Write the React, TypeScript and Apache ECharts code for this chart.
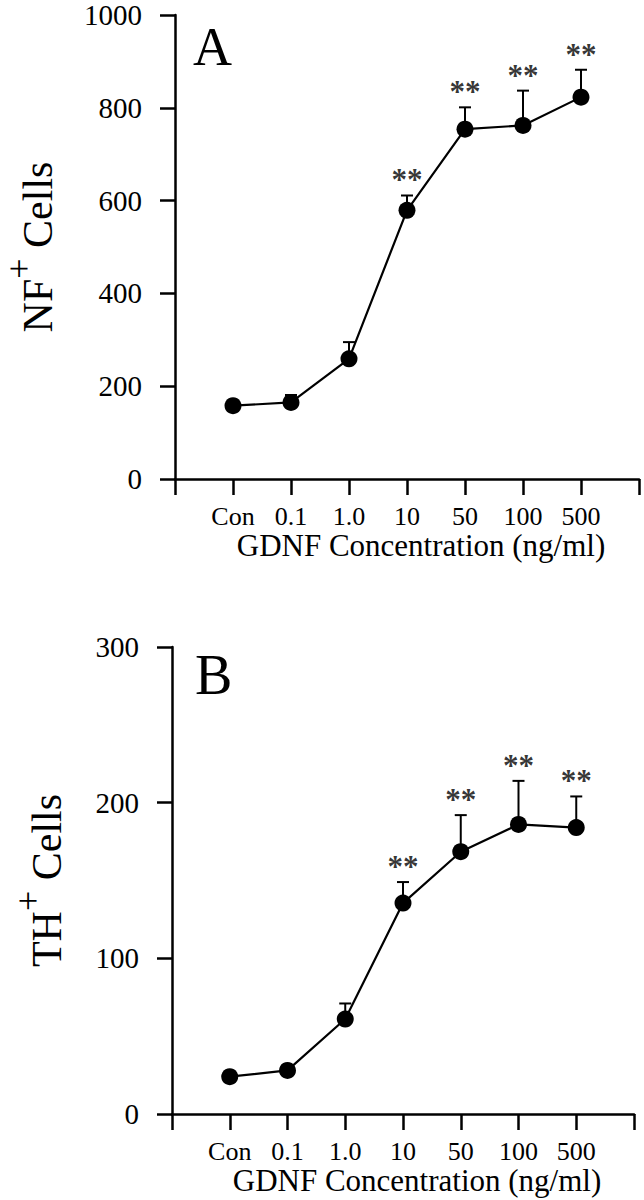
import React, { useEffect, useRef } from "react";
import * as echarts from "echarts";

const categories = ["Con", "0.1", "1.0", "10", "50", "100", "500"];
const nfMeans = [158, 165, 259, 579, 754, 762, 823];
const nfErrors = [8, 16, 36, 32, 47, 75, 59];
const thMeans = [24, 28, 61, 135.5, 168.5, 186, 184];
const thErrors = [2, 3, 10, 13.5, 23.5, 28, 20];
const significant = [false, false, false, true, true, true, true];
const nfTicks = { min: 0, max: 1000, interval: 200 };
const thTicks = { min: 0, max: 300, interval: 100 };

const FONT = '"Liberation Serif", "Times New Roman", serif';

function buildPanel(idx: number, means: number[], errs: number[]) {
  const pts = means.map((m, i) => [i + 1, m]);
  const errData = means.map((m, i) => [i + 1, m, m + errs[i]]);
  const starData = means
    .map((m, i) => [i + 1, m + errs[i]])
    .filter((_, i) => significant[i]);
  return [
    {
      type: "custom",
      xAxisIndex: idx,
      yAxisIndex: idx,
      data: errData,
      encode: { x: 0, y: [1, 2] },
      z: 1,
      renderItem: (params: any, api: any) => {
        const x = api.value(0);
        const y = api.value(1);
        const t = api.value(2);
        const p0 = api.coord([x, y]);
        const p1 = api.coord([x, t]);
        return {
          type: "group",
          children: [
            {
              type: "line",
              shape: { x1: p0[0], y1: p0[1], x2: p1[0], y2: p1[1] },
              style: { stroke: "#000", lineWidth: 2 },
            },
            {
              type: "line",
              shape: { x1: p1[0] - 6, y1: p1[1], x2: p1[0] + 6, y2: p1[1] },
              style: { stroke: "#000", lineWidth: 2 },
            },
          ],
        };
      },
    },
    {
      type: "line",
      xAxisIndex: idx,
      yAxisIndex: idx,
      data: pts,
      z: 3,
      symbol: "circle",
      symbolSize: 17,
      itemStyle: { color: "#000" },
      lineStyle: { color: "#000", width: 2.2 },
    },
    {
      type: "scatter",
      xAxisIndex: idx,
      yAxisIndex: idx,
      data: starData,
      symbolSize: 0,
      z: 4,
      label: {
        show: true,
        formatter: "**",
        position: "top",
        distance: 0,
        fontSize: 31,
        fontWeight: "bold",
        fontFamily: FONT,
        color: "#000",
      },
    },
  ];
}

function xAxis(idx: number) {
  return {
    type: "value",
    gridIndex: idx,
    min: 0,
    max: 8,
    interval: 1,
    axisLine: { lineStyle: { color: "#000", width: 2.5 } },
    axisTick: { show: true, length: 16, lineStyle: { color: "#000", width: 2.5 } },
    splitLine: { show: false },
    axisLabel: {
      show: true,
      margin: 24,
      fontSize: 26,
      fontFamily: FONT,
      color: "#000",
      showMinLabel: true,
      showMaxLabel: true,
      formatter: (v: number) => (v >= 1 && v <= categories.length ? categories[v - 1] : ""),
    },
    name: "GDNF Concentration (ng/ml)",
    nameLocation: "middle",
    nameGap: 47,
    nameTextStyle: {
      fontSize: 31,
      fontFamily: FONT,
      color: "#000",
      padding: [0, 0, 0, 28],
    },
  };
}

function yAxis(idx: number, ticks: any, label: string, gap: number) {
  return {
    type: "value",
    gridIndex: idx,
    min: ticks.min,
    max: ticks.max,
    interval: ticks.interval,
    axisLine: { show: true, lineStyle: { color: "#000", width: 2.5 } },
    axisTick: { show: true, length: 15, lineStyle: { color: "#000", width: 2.5 } },
    splitLine: { show: false },
    axisLabel: {
      margin: 33,
      fontSize: 29,
      fontFamily: FONT,
      color: "#000",
      formatter: (v: number) => String(v),
    },
    name: `{a|${label}}{s|+}{a| Cells}`,
    nameLocation: "middle",
    nameRotate: 90,
    nameGap: gap,
    nameTextStyle: {
      color: "#000",
      rich: {
        a: { fontSize: 42, fontFamily: FONT, color: "#000", verticalAlign: "bottom" },
        s: {
          fontSize: 36,
          fontFamily: FONT,
          color: "#000",
          verticalAlign: "top",
          padding: [0, 0, 22, 0],
        },
      },
    },
  };
}

export default function App() {
  const ref = useRef<HTMLDivElement>(null);
  useEffect(() => {
    document.body.style.margin = "0";
    const chart = echarts.init(ref.current!, undefined, { renderer: "svg" });
    chart.setOption({
      animation: false,
      backgroundColor: "#fff",
      grid: [
        { left: 175, right: 5, top: 15, height: 464, outerBoundsMode: "none", containLabel: false },
        { left: 172, right: 10, top: 647, height: 467, outerBoundsMode: "none", containLabel: false },
      ],
      xAxis: [xAxis(0), xAxis(1)],
      yAxis: [yAxis(0, nfTicks, "NF", 116), yAxis(1, thTicks, "TH", 104)],
      graphic: [
        {
          type: "text",
          left: 193,
          top: 20,
          style: { text: "A", fontSize: 54, fontFamily: FONT, fill: "#000" },
        },
        {
          type: "text",
          left: 195,
          top: 647,
          style: { text: "B", fontSize: 56, fontFamily: FONT, fill: "#000" },
        },
      ],
      series: [...buildPanel(0, nfMeans, nfErrors), ...buildPanel(1, thMeans, thErrors)],
    });
    return () => chart.dispose();
  }, []);
  return <div ref={ref} style={{ width: 644, height: 1200 }} />;
}
